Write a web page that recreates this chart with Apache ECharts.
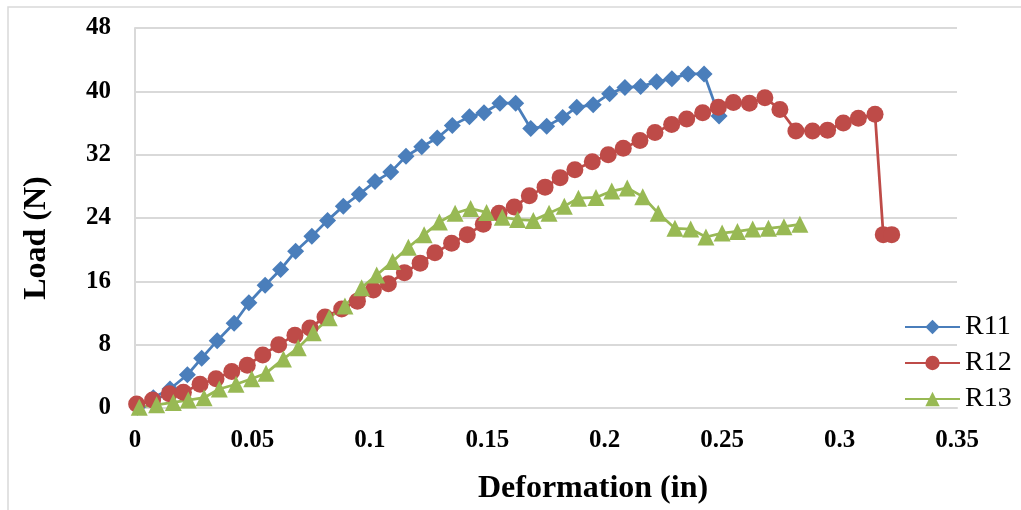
<!DOCTYPE html>
<html>
<head>
<meta charset="utf-8">
<script src="https://cdn.jsdelivr.net/npm/echarts@6/dist/echarts.min.js"></script>
<style>
  html, body { margin: 0; padding: 0; background: #fff; }
  #chart { width: 1021px; height: 510px; }
</style>
</head>
<body>
<div id="chart"></div>
<script>
var seriesNames = ['R11', 'R12', 'R13'];

var r11X = [0.001, 0.0078, 0.0149, 0.0223, 0.0284, 0.035, 0.0422, 0.0485, 0.0554, 0.062, 0.0684, 0.0753, 0.082, 0.0887, 0.0955, 0.1022, 0.1089, 0.1154, 0.1221, 0.1287, 0.1351, 0.1424, 0.1486, 0.1554, 0.1621, 0.1685, 0.1753, 0.1821, 0.1881, 0.1951, 0.2021, 0.2086, 0.2153, 0.2221, 0.2286, 0.2355, 0.2423, 0.2487];
var r11Y = [0.1, 1.3, 2.4, 4.2, 6.3, 8.5, 10.7, 13.3, 15.5, 17.5, 19.8, 21.7, 23.7, 25.5, 27.0, 28.6, 29.8, 31.8, 33.0, 34.1, 35.7, 36.8, 37.3, 38.5, 38.5, 35.3, 35.6, 36.7, 38.0, 38.3, 39.7, 40.5, 40.6, 41.2, 41.6, 42.2, 42.2, 36.9];

var r12X = [0.0007, 0.0075, 0.0146, 0.0206, 0.0277, 0.0345, 0.0412, 0.0478, 0.0544, 0.0612, 0.0681, 0.0745, 0.0809, 0.088, 0.0947, 0.1015, 0.1079, 0.1147, 0.1214, 0.1277, 0.1348, 0.1415, 0.1483, 0.155, 0.1615, 0.1679, 0.1746, 0.181, 0.1873, 0.1947, 0.2015, 0.2079, 0.215, 0.2214, 0.2285, 0.2349, 0.2417, 0.2484, 0.2548, 0.2616, 0.2682, 0.2746, 0.2814, 0.2885, 0.2949, 0.3016, 0.308, 0.3151, 0.3186, 0.3222];
var r12Y = [0.5, 1.0, 1.8, 2.0, 3.0, 3.7, 4.6, 5.4, 6.7, 8.0, 9.2, 10.1, 11.5, 12.5, 13.5, 14.9, 15.7, 17.1, 18.3, 19.6, 20.8, 21.9, 23.2, 24.6, 25.4, 26.8, 27.9, 29.1, 30.1, 31.1, 32.0, 32.8, 33.8, 34.8, 35.8, 36.5, 37.3, 38.0, 38.6, 38.5, 39.2, 37.7, 35.0, 35.0, 35.1, 36.0, 36.6, 37.1, 21.9, 21.9];

var r13X = [0.0018, 0.0092, 0.0163, 0.0227, 0.0294, 0.0359, 0.043, 0.0497, 0.0558, 0.0632, 0.0695, 0.0759, 0.0827, 0.0894, 0.0965, 0.1029, 0.1097, 0.1164, 0.1231, 0.1296, 0.1363, 0.1429, 0.1497, 0.1564, 0.1629, 0.1696, 0.1763, 0.1828, 0.1888, 0.1963, 0.203, 0.2096, 0.2162, 0.2228, 0.2299, 0.2366, 0.2431, 0.25, 0.2565, 0.263, 0.2697, 0.2763, 0.2831];
var r13Y = [0.1, 0.4, 0.7, 1.0, 1.3, 2.4, 3.0, 3.7, 4.4, 6.2, 7.6, 9.5, 11.4, 12.9, 15.2, 16.8, 18.5, 20.3, 21.9, 23.5, 24.6, 25.2, 24.7, 24.1, 23.8, 23.7, 24.6, 25.5, 26.5, 26.6, 27.4, 27.8, 26.7, 24.6, 22.7, 22.6, 21.6, 22.1, 22.3, 22.6, 22.7, 22.9, 23.2];

function pairs(xs, ys) {
    var out = [];
    for (var i = 0; i < xs.length; i++) {
        out.push([xs[i], ys[i]]);
    }
    return out;
}

var serif = '"Liberation Serif", "Times New Roman", serif';
var gridGrey = '#d9d9d9';

var option = {
    animation: false,
    backgroundColor: '#fff',
    graphic: [{
        type: 'rect',
        shape: { x: 8, y: 7, width: 1040, height: 540 },
        style: { fill: 'none', stroke: gridGrey, lineWidth: 1.5 },
        silent: true
    }],
    grid: { left: 135, right: 64, top: 28, bottom: 101 },
    legend: {
        orient: 'vertical',
        left: 899,
        top: 308,
        itemWidth: 55,
        itemHeight: 18,
        itemGap: 8,
        data: seriesNames,
        textStyle: { fontFamily: serif, fontSize: 28, color: '#000' }
    },
    xAxis: {
        type: 'value',
        min: 0,
        max: 0.35,
        interval: 0.05,
        name: 'Deformation (in)',
        nameLocation: 'middle',
        nameGap: 65,
        nameTextStyle: { fontFamily: serif, fontSize: 32, fontWeight: 'bold', color: '#000', padding: [0, 0, 0, 94] },
        axisLine: { show: true, lineStyle: { color: gridGrey, width: 2 } },
        axisTick: { show: false },
        axisLabel: { margin: 20, fontFamily: serif, fontSize: 25, fontWeight: 'bold', color: '#000' },
        splitLine: { show: false }
    },
    yAxis: {
        type: 'value',
        min: 0,
        max: 48,
        interval: 8,
        name: 'Load (N)',
        nameLocation: 'middle',
        nameGap: 82,
        nameTextStyle: { fontFamily: serif, fontSize: 32, fontWeight: 'bold', color: '#000', padding: [0, 40, 0, 0] },
        axisLine: { show: true, lineStyle: { color: gridGrey, width: 2 } },
        axisTick: { show: false },
        axisLabel: { margin: 24, fontFamily: serif, fontSize: 25, fontWeight: 'bold', color: '#000' },
        splitLine: { show: true, lineStyle: { color: gridGrey, width: 2 } }
    },
    series: [{
        name: 'R11',
        type: 'line',
        data: pairs(r11X, r11Y),
        symbol: 'diamond',
        symbolSize: 17,
        color: '#4a7ebb',
        lineStyle: { width: 2.75 }
    }, {
        name: 'R12',
        type: 'line',
        data: pairs(r12X, r12Y),
        symbol: 'circle',
        symbolSize: 17,
        color: '#be4b48',
        lineStyle: { width: 2.75 }
    }, {
        name: 'R13',
        type: 'line',
        data: pairs(r13X, r13Y),
        symbol: 'triangle',
        symbolSize: 17,
        color: '#98b954',
        lineStyle: { width: 2.75 }
    }]
};

var myChart = echarts.init(document.getElementById('chart'));
myChart.setOption(option, true);
</script>
</body>
</html>
